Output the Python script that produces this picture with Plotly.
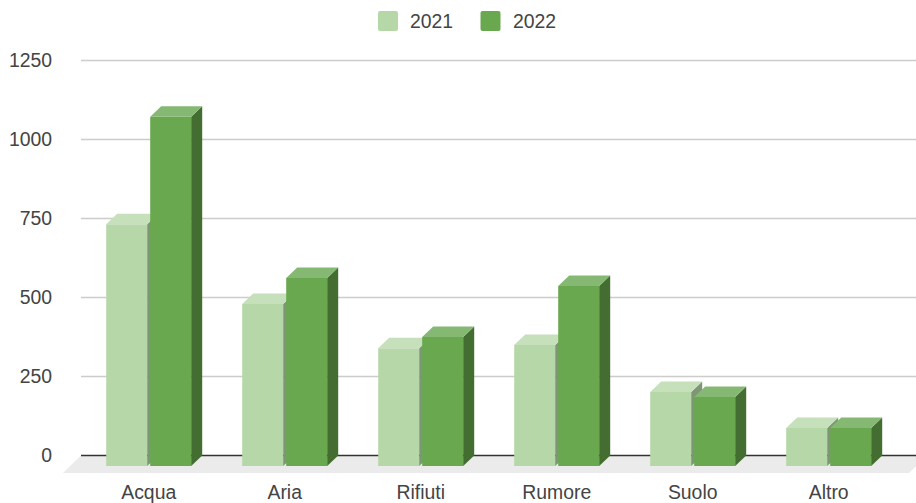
import plotly.graph_objects as go

categories = ["Acqua", "Aria", "Rifiuti", "Rumore", "Suolo", "Altro"]
values_2021 = [765, 513, 373, 383, 234, 120]
values_2022 = [1105, 595, 408, 570, 218, 120]
y_ticks = [0, 250, 500, 750, 1000, 1250]

# plot frame in page pixels
W, H = 916, 503
L, R, T, B = 63, 916, 40, 473
PX_X = 136.0        # pixels per category
X0_PX = 148.7       # pixel of category 0 centre
PX_Y = 0.316        # pixels per value unit
ZERO_PX = 455.5     # pixel of value 0

x_range = [(L - X0_PX) / PX_X, (R - X0_PX) / PX_X]
y_range = [(ZERO_PX - B) / PX_Y, (ZERO_PX - T) / PX_Y]

BAR_W = 41 / PX_X
GAP = 3 / PX_X
DEPTH_X = 11 / PX_X
DEPTH_Y = 10.5 / PX_Y
FLOOR_LEFT = (81 - X0_PX) / PX_X
FLOOR_RIGHT = (927 - X0_PX) / PX_X
FLOOR_DX = 18 / PX_X
FLOOR_DY = 17.5 / PX_Y

styles = {
    "2021": dict(front="#b6d7a8", top="#c5e0ba", side="#7f9676"),
    "2022": dict(front="#6aa84f", top="#85b872", side="#446d31"),
}
TEXT = "#444444"
FONT = "Liberation Sans, Arial, sans-serif"
FONT_SIZE = 19.4


def faces(vals, offset):
    tx, ty, sx, sy = [], [], [], []
    for i, v in enumerate(vals):
        x0 = i + offset
        x1 = x0 + BAR_W
        y1 = v - DEPTH_Y
        tx += [x0, x1, x1 + DEPTH_X, x0 + DEPTH_X, x0, None]
        ty += [y1, y1, v, v, y1, None]
        sx += [x1, x1 + DEPTH_X, x1 + DEPTH_X, x1, x1, None]
        sy += [-DEPTH_Y, 0, v, y1, -DEPTH_Y, None]
    return tx, ty, sx, sy


fig = go.Figure()
xs = list(range(len(categories)))
series = [("2021", values_2021, -BAR_W - GAP / 2, "x", "y"),
          ("2022", values_2022, GAP / 2, "x2", "y2")]
for name, vals, off, xa, ya in series:
    st = styles[name]
    fig.add_trace(go.Bar(name=name, x=xs, y=vals, base=[-DEPTH_Y] * len(vals),
                         width=BAR_W, offset=off, marker=dict(color=st["front"], line=dict(width=0)),
                         xaxis=xa, yaxis=ya, showlegend=False))
    tx, ty, sx, sy = faces(vals, off)
    for fx, fy, col in [(sx, sy, st["side"]), (tx, ty, st["top"])]:
        fig.add_trace(go.Scatter(x=fx, y=fy, mode="lines", fill="toself", fillcolor=col,
                                 line=dict(width=0), hoverinfo="skip", showlegend=False,
                                 xaxis=xa, yaxis=ya))

shapes = [dict(type="path", layer="below", xref="x", yref="y", line=dict(width=0), fillcolor="#ebebeb",
               path=f"M {FLOOR_LEFT} 0 L {FLOOR_RIGHT} 0 L {FLOOR_RIGHT - FLOOR_DX} {-FLOOR_DY} "
                    f"L {FLOOR_LEFT - FLOOR_DX} {-FLOOR_DY} Z")]
for t in y_ticks:
    shapes.append(dict(type="line", layer="below", xref="x", yref="y", x0=FLOOR_LEFT, x1=FLOOR_RIGHT,
                       y0=t, y1=t, line=dict(color="#333333" if t == 0 else "#cccccc", width=1.5)))

annotations = []
for name, sw_px, txt_px in [("2021", 388, 408), ("2022", 490.5, 510.5)]:
    shapes.append(dict(type="path", xref="paper", yref="paper", xsizemode="pixel", ysizemode="pixel",
                       xanchor=(sw_px - L) / (R - L), yanchor=(B - 21) / (B - T),
                       line=dict(width=0), fillcolor=styles[name]["front"],
                       path="M -8 -10 L 8 -10 Q 10 -10 10 -8 L 10 8 Q 10 10 8 10 L -8 10 Q -10 10 -10 8 "
                            "L -10 -8 Q -10 -10 -8 -10 Z"))
    annotations.append(dict(text=name, xref="paper", yref="paper", x=(txt_px - L) / (R - L),
                            y=(B - 21) / (B - T), xanchor="left", yanchor="middle", showarrow=False,
                            font=dict(size=FONT_SIZE, color=TEXT, family=FONT)))

fig.update_layout(
    width=W, height=H, autosize=False, showlegend=False,
    margin=dict(l=L, r=W - R, t=T, b=H - B, pad=0),
    paper_bgcolor="white", plot_bgcolor="rgba(0,0,0,0)",
    font=dict(family=FONT, size=FONT_SIZE, color=TEXT),
    shapes=shapes, annotations=annotations, barmode="overlay",
    xaxis=dict(range=x_range, tickmode="array", tickvals=xs, ticktext=categories, showgrid=False,
               zeroline=False, showline=False, ticks="outside", ticklen=2, tickcolor="rgba(0,0,0,0)",
               automargin=False),
    yaxis=dict(range=y_range, tickmode="array", tickvals=y_ticks, showgrid=False, zeroline=False,
               showline=False, ticks="outside", ticklen=6, tickcolor="rgba(0,0,0,0)",
               automargin=False),
    xaxis2=dict(matches="x", overlaying="x", visible=False),
    yaxis2=dict(matches="y", overlaying="y", visible=False),
)

fig.write_html("out.html", config={"displayModeBar": False},
               post_script="document.body.style.margin='0';document.documentElement.style.overflow='hidden';")
